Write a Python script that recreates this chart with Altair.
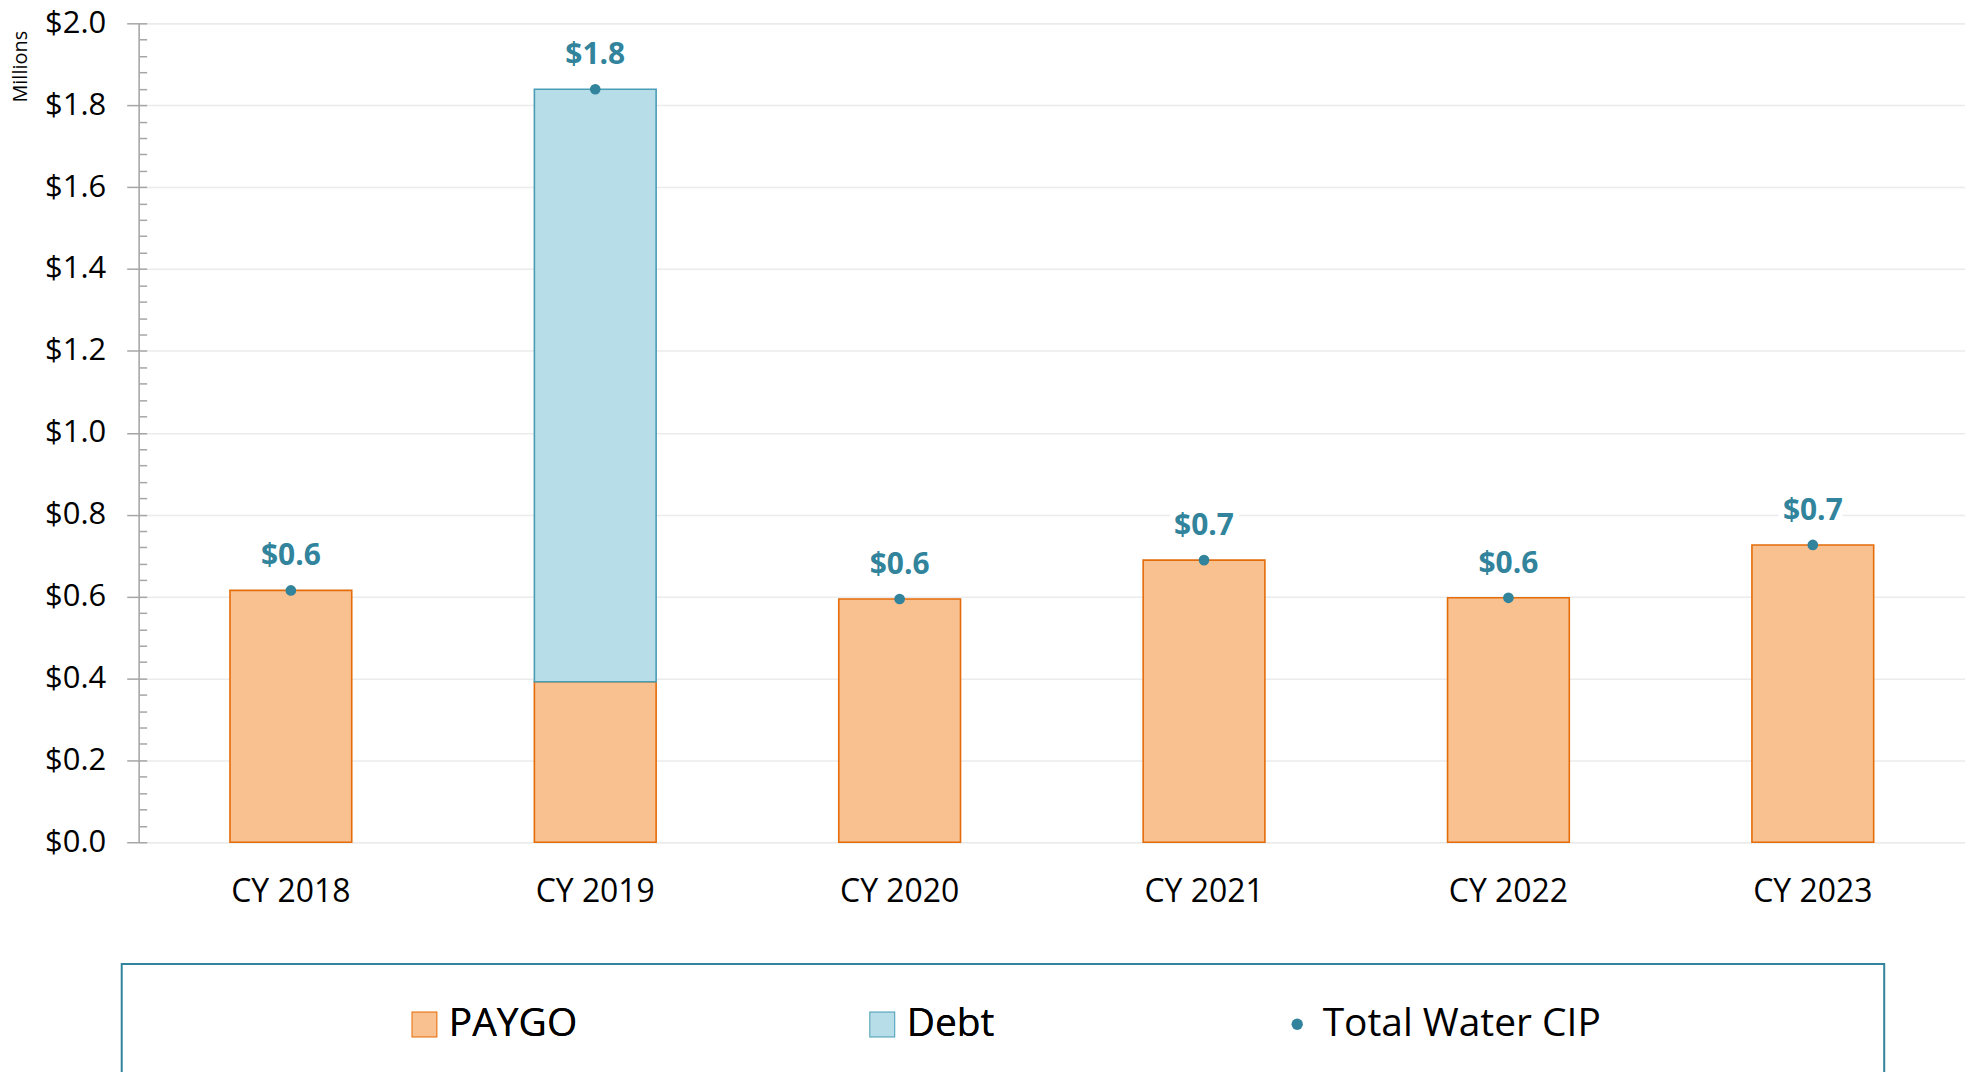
import altair as alt
import pandas as pd

# ---- data ----
years = ["CY 2018", "CY 2019", "CY 2020", "CY 2021", "CY 2022", "CY 2023"]
paygo = [0.615, 0.392, 0.594, 0.689, 0.597, 0.726]
debt = [0.0, 1.447, 0.0, 0.0, 0.0, 0.0]
bar_series = ["PAYGO", "Debt"]
bar_fills = ["#F9C090", "#B7DDE8"]
bar_strokes = ["#E46C0A", "#4A9DB5"]
total_name = "Total Water CIP"
total_color = "#31849B"
y_major = [0.0, 0.2, 0.4, 0.6, 0.8, 1.0, 1.2, 1.4, 1.6, 1.8, 2.0]
y_minor = [round(i * 0.04, 2) for i in range(51)]

rows = []
for yr, p, d in zip(years, paygo, debt):
    rows.append({"year": yr, "series": "PAYGO", "value": p, "order": 0})
    if d > 0:
        rows.append({"year": yr, "series": "Debt", "value": d, "order": 1})
bars_df = pd.DataFrame(rows)
tot_df = pd.DataFrame({
    "year": years,
    "total": [p + d for p, d in zip(paygo, debt)],
    "series": [total_name] * len(years),
})

FONT = "Open Sans"
y_scale = alt.Scale(domain=[0, 2], nice=False, zero=True)

x_axis = alt.Axis(title=None, labelAngle=0, labelFontSize=32, labelFont=FONT,
                  labelColor="#000000", ticks=False, tickSize=0, domain=False,
                  labelPadding=34, grid=False)
x_enc = alt.X("year:N", sort=years,
              scale=alt.Scale(paddingInner=0.6, paddingOuter=0.3), axis=x_axis)

bar_legend = alt.Legend(
    title=None, orient="none", legendX=267, legendY=984, direction="horizontal",
    labelFontSize=39, labelFont=FONT, labelColor="#000000", labelLimit=800,
    labelOffset=5, columnPadding=286, symbolSize=576, symbolStrokeWidth=2,
    symbolType="square", symbolOpacity=1, padding=0,
)
pt_legend = alt.Legend(
    title=None, orient="none", legendX=1142, legendY=984, direction="horizontal",
    labelFontSize=39, labelFont=FONT, labelColor="#000000", labelLimit=800,
    labelOffset=6, symbolSize=130, symbolStrokeWidth=0, symbolType="circle",
    symbolOpacity=1, padding=0,
)

main_y_axis = alt.Axis(
    values=y_major, format="$.1f", labelFontSize=31, labelFont=FONT,
    labelColor="#000000", tickSize=12, tickColor="#A6A6A6", tickWidth=1.5,
    domainColor="#A6A6A6", domainWidth=1.5, gridColor="#EBEBEB", gridWidth=1.5,
    labelPadding=21, orient="left",
    title="Millions", titleFont=FONT, titleFontSize=20, titleFontWeight="normal",
    titleColor="#000000", titleX=-118, titleY=43, titleAngle=270,
    titleAlign="center", titleBaseline="middle",
)
minor_y_axis = alt.Axis(
    values=y_minor, labels=False, domain=False, grid=False, tickSize=8,
    offset=-8, tickColor="#A6A6A6", tickWidth=1.5, title=None, orient="left",
)

bars = alt.Chart(bars_df).mark_bar(strokeWidth=1.6, opacity=1).encode(
    x=x_enc,
    y=alt.Y("value:Q", stack="zero", scale=y_scale, axis=main_y_axis),
    color=alt.Color("series:N", scale=alt.Scale(domain=bar_series, range=bar_fills),
                    legend=bar_legend),
    stroke=alt.Stroke("series:N", scale=alt.Scale(domain=bar_series, range=bar_strokes),
                      legend=bar_legend),
    order=alt.Order("order:Q"),
)

points = alt.Chart(tot_df).mark_point(filled=True, size=115, opacity=1).encode(
    x=x_enc,
    y=alt.Y("total:Q", scale=y_scale, axis=minor_y_axis),
    color=alt.Color("series:N", scale=alt.Scale(domain=[total_name], range=[total_color]),
                    legend=pt_legend),
)

halo = alt.Chart(tot_df).mark_text(
    font=FONT, fontSize=30, fontWeight="bold", baseline="alphabetic", dy=-25,
    color="#FFFFFF", stroke="#FFFFFF", strokeWidth=12, strokeJoin="round",
).encode(
    x=x_enc,
    y=alt.Y("total:Q", scale=y_scale, axis=None),
    text=alt.Text("total:Q", format="$.1f"),
)

labels = alt.Chart(tot_df).mark_text(
    font=FONT, fontSize=30, fontWeight="bold", baseline="alphabetic", dy=-25,
    color=total_color,
).encode(
    x=x_enc,
    y=alt.Y("total:Q", scale=y_scale, axis=None),
    text=alt.Text("total:Q", format="$.1f"),
)

frame = alt.Chart(alt.Data(values=[{"k": 1}])).mark_rect(
    fillOpacity=0, stroke=total_color, strokeWidth=2,
).encode(
    x=alt.value(-17), x2=alt.value(1750), y=alt.value(943), y2=alt.value(1100),
)

chart = alt.layer(bars, points, halo, labels, frame).resolve_axis(
    y="independent"
).resolve_scale(
    color="independent"
).properties(
    width=1831, height=821,
    padding={"left": 131, "top": 14, "right": 0, "bottom": 229},
    autosize=alt.AutoSizeParams(type="none"),
).configure_view(
    stroke="#CFCFCF", strokeWidth=2,
).configure(font=FONT)

chart.save("out.html", embed_options={"renderer": "svg", "actions": False})
